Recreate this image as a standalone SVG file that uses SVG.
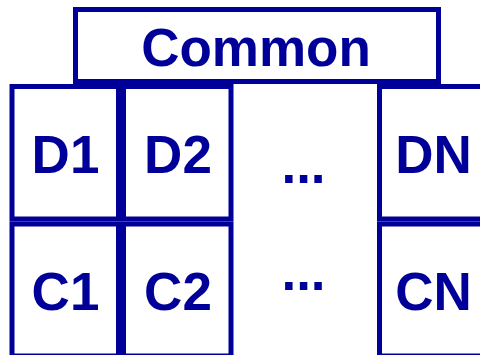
<svg xmlns="http://www.w3.org/2000/svg" width="480" height="355" viewBox="0 0 480 355">
  <style>
    .box { fill: #ffffff; stroke: #000099; stroke-width: 5; }
    .lbl { font-family: "Liberation Sans", Arial, sans-serif; font-weight: bold; font-size: 53px; fill: #000099; text-anchor: middle; }
  </style>
  <rect x="0" y="0" width="480" height="355" fill="#ffffff"/>
  <g id="common">
    <rect class="box" x="75.5" y="9.5" width="363" height="72"/>
    <text class="lbl" x="256" y="65.5">Common</text>
  </g>
  <g id="d1">
    <rect class="box" x="12" y="86.5" width="106.5" height="132.5"/>
    <text class="lbl" x="65.5" y="172.5">D1</text>
  </g>
  <g id="d2">
    <rect class="box" x="123.5" y="86.5" width="107.5" height="132.5"/>
    <text class="lbl" x="178" y="172.5">D2</text>
  </g>
  <g id="d-ellipsis">
    <text class="lbl" x="303.5" y="182.5">...</text>
  </g>
  <g id="dn">
    <rect class="box" x="379.5" y="86.5" width="112" height="132.5"/>
    <text class="lbl" x="433.5" y="172.5">DN</text>
  </g>
  <g id="c1">
    <rect class="box" x="12" y="224" width="106.5" height="132"/>
    <text class="lbl" x="65.5" y="309.5">C1</text>
  </g>
  <g id="c2">
    <rect class="box" x="123.5" y="224" width="107.5" height="132"/>
    <text class="lbl" x="178" y="309.5">C2</text>
  </g>
  <g id="c-ellipsis">
    <text class="lbl" x="303.5" y="290">...</text>
  </g>
  <g id="cn">
    <rect class="box" x="379.5" y="224" width="112" height="132"/>
    <text class="lbl" x="433.5" y="309.5">CN</text>
  </g>
  <g id="connectors"/>
</svg>
